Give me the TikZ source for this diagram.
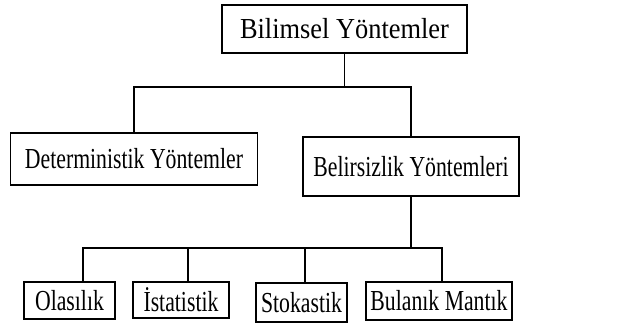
\documentclass[tikz,border=0pt]{standalone}
\usepackage{fontspec}
\setmainfont{Liberation Serif}
\usepackage{graphicx}
\newcommand{\lbl}[2]{\scalebox{#1}[1]{\fontsize{29}{31}\selectfont #2}}
\tikzset{
  box/.style={draw=black, line width=1.6pt, rectangle, inner sep=0pt, anchor=center},
  conn/.style={draw=black, line width=1.6pt}
}
\begin{document}
\begin{tikzpicture}[x=1pt,y=-1pt]
\useasboundingbox (0,0) rectangle (641,325);
\node[box, minimum width=245, minimum height=48] (top) at (344.5,29) {\lbl{0.91}{Bilimsel Yöntemler}};
\node[box, minimum width=247, minimum height=52] (det) at (134,159) {\lbl{0.75}{Deterministik Yöntemler}};
\node[box, minimum width=216, minimum height=59] (bel) at (411,166.5) {\lbl{0.75}{Belirsizlik Yöntemleri}};
\node[box, minimum width=91, minimum height=37] (ol) at (69.5,300.5) {\lbl{0.75}{Olasılık}};
\node[box, minimum width=96, minimum height=36] (is) at (181,300) {\lbl{0.75}{İstatistik}};
\node[box, minimum width=91, minimum height=39] (st) at (301.5,302.5) {\lbl{0.75}{Stokastik}};
\node[box, minimum width=146, minimum height=38] (bu) at (439,301) {\lbl{0.75}{Bulanık Mantık}};
\coordinate (j1) at (344.5,87);
\coordinate (j2) at (411,248);
\draw[conn] (top.south) -- (j1);
\draw[conn] (j1) -| (det.north);
\draw[conn] (j1) -| (bel.north);
\draw[conn] (bel.south) -- (j2);
\draw[conn] (j2) -| ([xshift=13.5pt]ol.north);
\draw[conn] (j2) -| ([xshift=7pt]is.north);
\draw[conn] (j2) -| ([xshift=3.5pt]st.north);
\draw[conn] (j2) -| ([xshift=3pt]bu.north);
\end{tikzpicture}
\end{document}
